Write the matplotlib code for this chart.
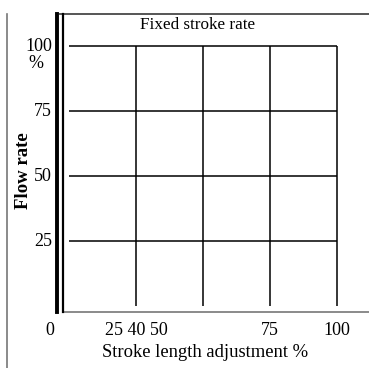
import matplotlib
matplotlib.use("Agg")
import matplotlib.pyplot as plt

# grid positions (percent)
flow_levels = [25, 50, 75, 100]
stroke_levels = [25, 50, 75, 100]

# tick labels
y_tick_pos = [25, 50, 75, 100]
y_tick_labels = ["25", "50", "75", "100"]
x_tick_pos = [-7, 25, 75, 100]
x_tick_labels = ["0", "25 40 50", "75", "100"]

title = "Fixed stroke rate"
xlabel = "Stroke length adjustment %"
ylabel = "Flow rate"

plt.rcParams['font.family'] = ['Liberation Serif', 'DejaVu Serif']

fig = plt.figure(figsize=(3.69, 3.68), dpi=100)
ax = fig.add_axes([0, 0, 1, 1])
ax.set_xlim(-25.75, 111.94)
ax.set_ylim(-23.85, 117.7)
ax.axis('off')

# grid
ax.hlines(flow_levels, 0, 100, color='black', lw=1.1)
ax.vlines(stroke_levels, 0, 100, color='black', lw=1.1)

# frame lines
ax.plot([-23.1, -23.1], [-30, 112.3], color='#777777', lw=1.2)
ax.plot([-3.4, 120], [112.3, 112.3], color='#555555', lw=1.4)
ax.plot([-2.2, 120], [-2.3, -2.3], color='#777777', lw=1.2)
ax.plot([-4.3, -4.3], [-2.3, 112.3], color='black', lw=2.8)
ax.plot([-2.2, -2.2], [-2.3, 112.3], color='black', lw=1.6)

fs = 13
for y, lab in zip(y_tick_pos, y_tick_labels):
    ax.text(-6.3, y, lab, ha='right', va='center', fontsize=fs)
ax.text(-12.3, 93.1, "%", ha='center', va='center', fontsize=fs)
for x, lab in zip(x_tick_pos, x_tick_labels):
    ax.text(x, -9.4, lab, ha='center', va='center', fontsize=fs)

ax.text(48.1, 108.1, title, ha='center', va='center', fontsize=12.3)
ax.text(50.9, -17.7, xlabel, ha='center', va='center', fontsize=13.4)
ax.text(-17.0, 51.9, ylabel, ha='center', va='center', rotation=90,
        fontsize=13.5, fontweight='bold')

fig.savefig("out.png", dpi=100)
